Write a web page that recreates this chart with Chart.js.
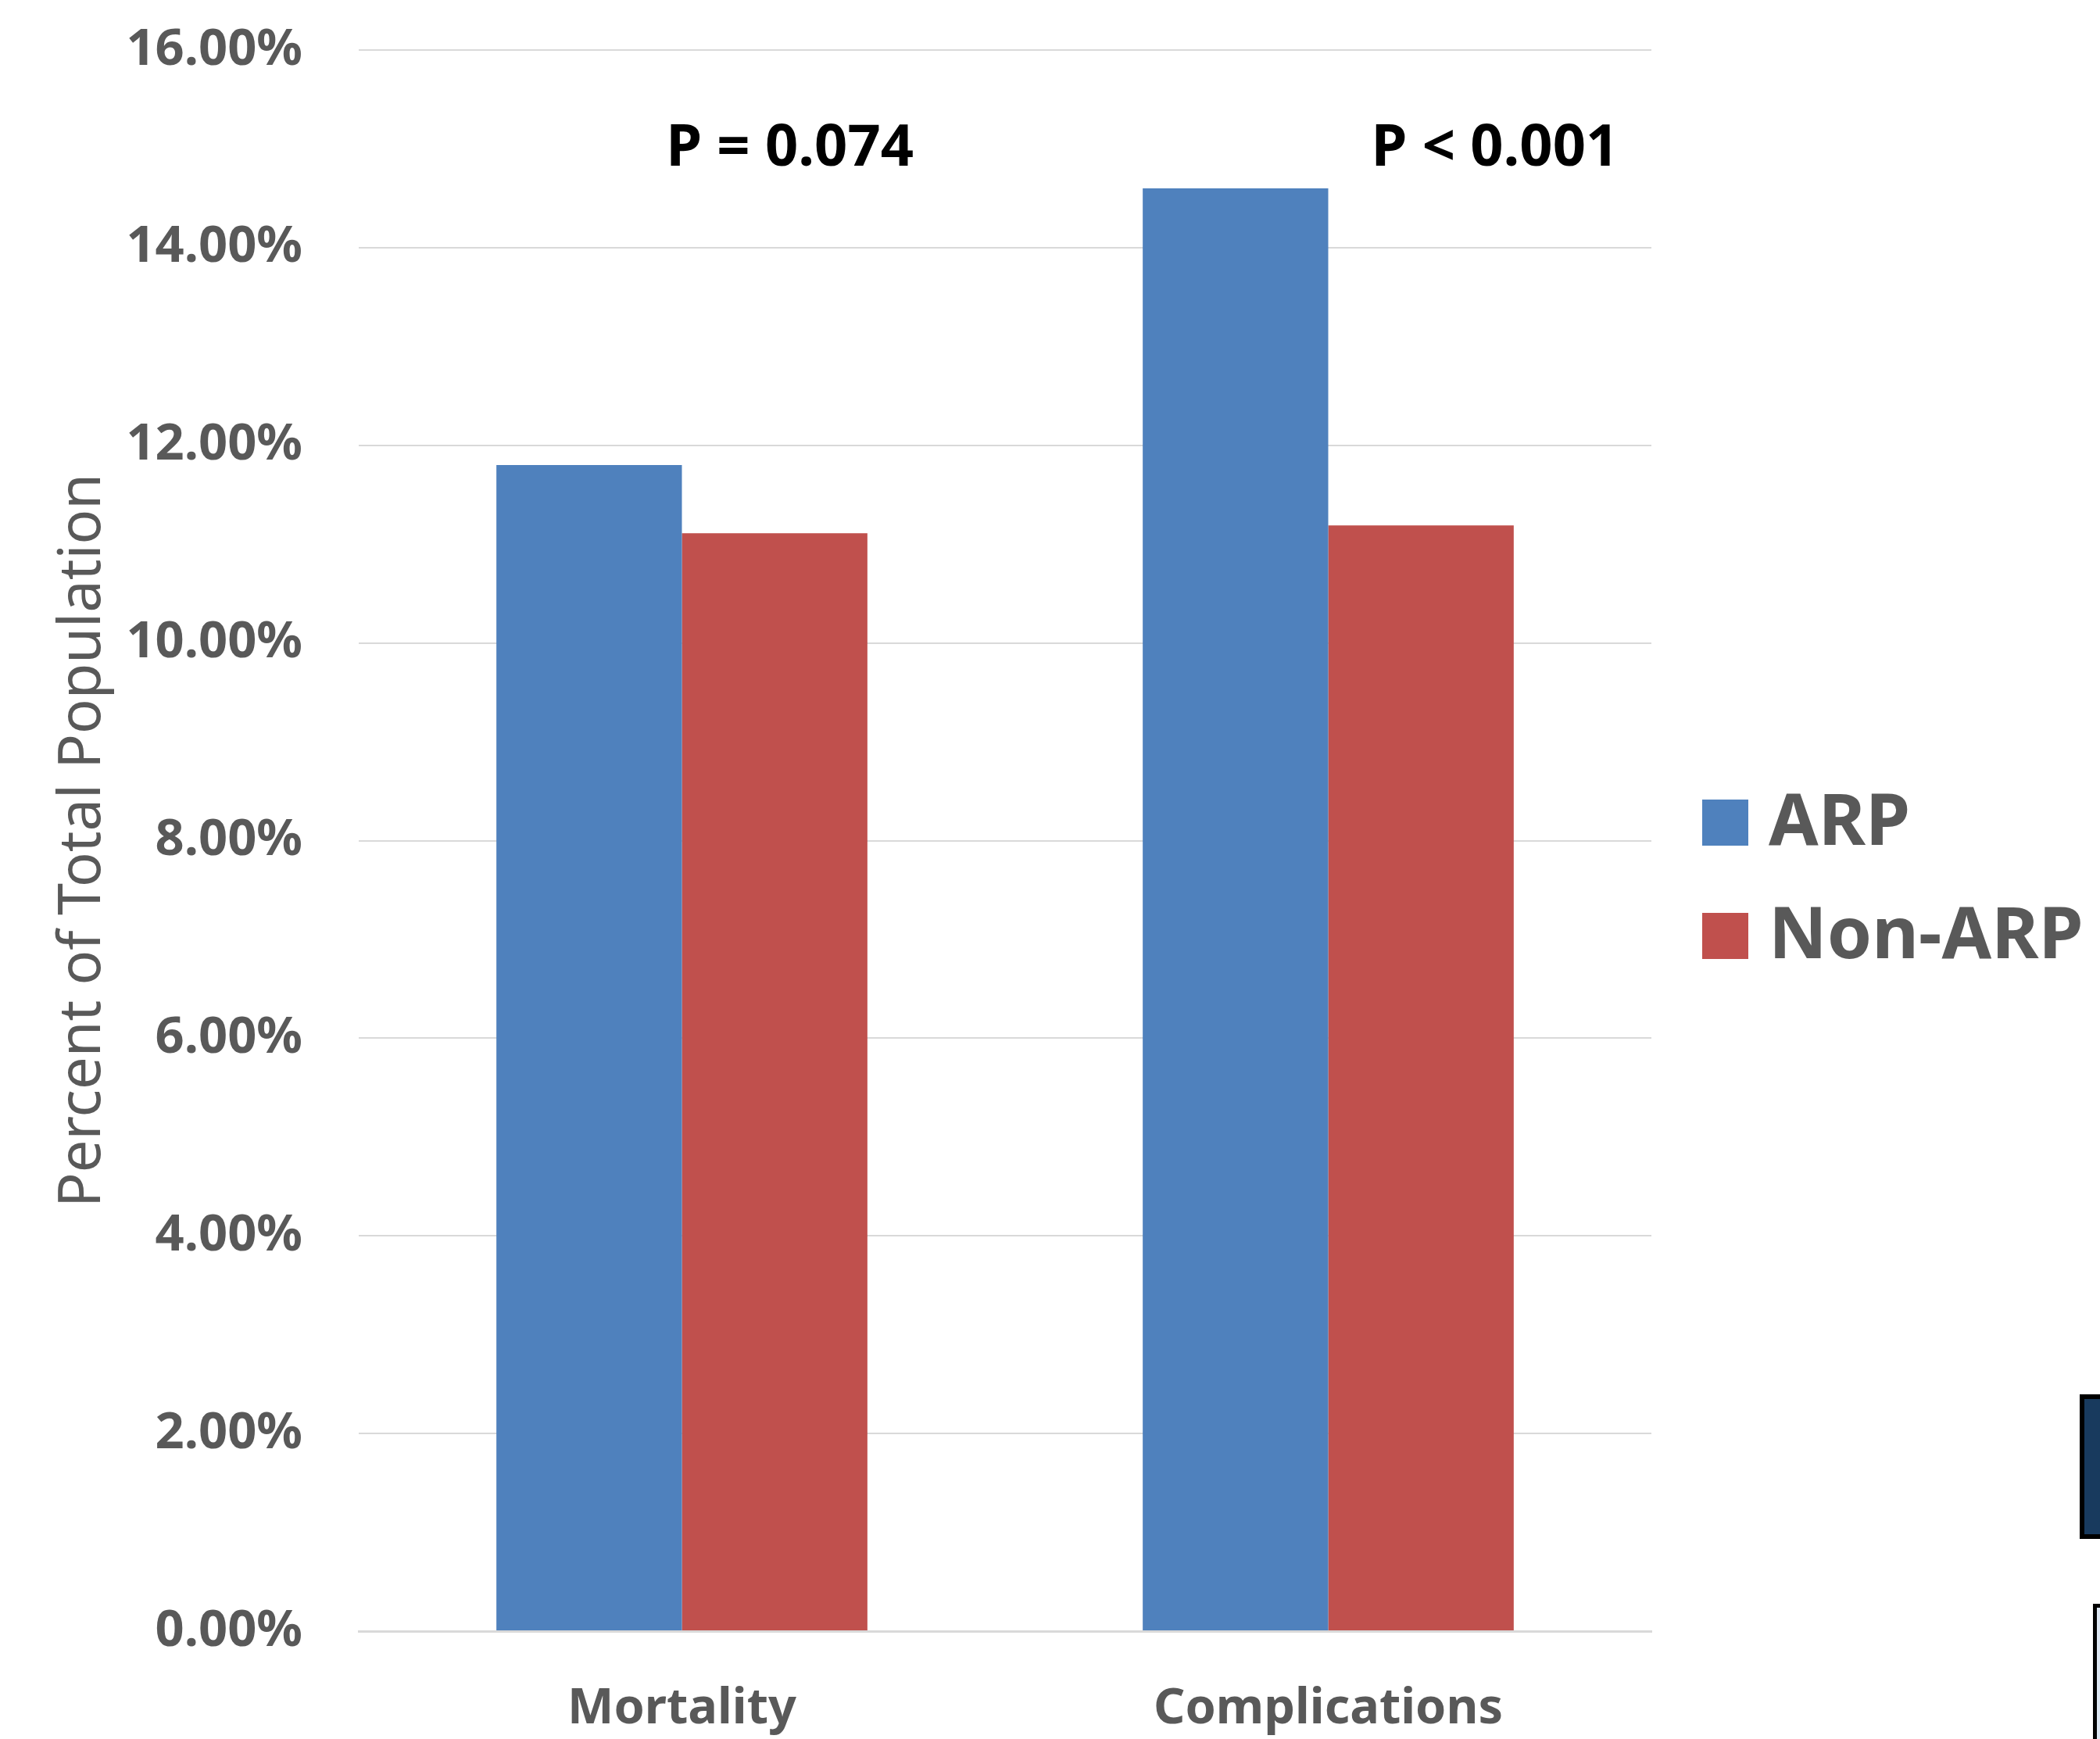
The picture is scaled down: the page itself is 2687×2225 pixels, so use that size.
<!DOCTYPE html>
<html>
<head>
<meta charset="utf-8">
<title>ARP vs Non-ARP outcomes</title>
<script src="https://cdn.jsdelivr.net/npm/chart.js"></script>
<style>
  html, body { margin: 0; padding: 0; background: #fff; }
  #wrap { position: relative; width: 2687px; height: 2225px; overflow: hidden; }
  #deco1 { position: absolute; left: 2661px; top: 1784px; width: 40px; height: 185px;
           background: #183a5e; border: 6px solid #000; box-sizing: border-box; }
  #deco2 { position: absolute; left: 2678px; top: 2052px; width: 40px; height: 200px;
           background: #dce6f2; border: 5px solid #000; box-sizing: border-box; }
</style>
</head>
<body>
<div id="wrap">
  <canvas id="outcomeChart"></canvas>
  <div id="deco1"></div>
  <div id="deco2"></div>
</div>

<script>
// data (percent of total population)
var categories = ['Mortality', 'Complications'];
var seriesNames = ['ARP', 'Non-ARP'];
var arpValues = [11.80, 14.60];
var nonArpValues = [11.11, 11.19];
var pValueLabels = ['P = 0.074', 'P < 0.001'];
var yTicks = [0, 2, 4, 6, 8, 10, 12, 14, 16];

var FONT = "'Noto Sans', 'DejaVu Sans', sans-serif";
var GREY = '#595959';

// p-value text above each category group
var pNotesPlugin = {
  id: 'pNotes',
  afterDatasetsDraw: function(chart) {
    var ctx = chart.ctx;
    var x = chart.scales.x, y = chart.scales.y;
    var catW = (chart.chartArea.right - chart.chartArea.left) / categories.length;
    var shift = [0.167, 0.258];
    ctx.save();
    ctx.font = 'bold 74px ' + FONT;
    ctx.fillStyle = '#000';
    ctx.textAlign = 'center';
    ctx.textBaseline = 'middle';
    pValueLabels.forEach(function(t, i) {
      ctx.fillText(t, x.getPixelForValue(i) + shift[i] * catW, y.getPixelForValue(15.0));
    });
    ctx.restore();
  }
};

// legend drawn to the right of the plot, like the office chart
var sideLegend = {
  id: 'sideLegend',
  afterDraw: function(chart) {
    var ctx = chart.ctx;
    var area = chart.chartArea;
    var mid = (area.top + area.bottom) / 2;
    var box = 59;
    ctx.save();
    ctx.font = 'bold 92px ' + FONT;
    ctx.textBaseline = 'middle';
    chart.data.datasets.forEach(function(ds, i) {
      var cy = mid - 23 + i * 145;
      var bx = area.right + 65;
      ctx.fillStyle = ds.backgroundColor;
      ctx.fillRect(bx, cy - box / 2, box, box);
      ctx.fillStyle = GREY;
      ctx.fillText(ds.label, bx + 85, cy + 2);
    });
    ctx.restore();
  }
};

var ctx = document.getElementById('outcomeChart').getContext('2d');
new Chart(ctx, {
  type: 'bar',
  data: {
    labels: categories,
    datasets: [
      { label: seriesNames[0], data: arpValues, backgroundColor: '#4F81BD' },
      { label: seriesNames[1], data: nonArpValues, backgroundColor: '#C0504D' }
    ]
  },
  options: {
    responsive: true,
    maintainAspectRatio: false,
    animation: false,
    layout: { padding: { top: 64, right: 574, left: 0, bottom: 0 } },
    datasets: { bar: { categoryPercentage: 0.574, barPercentage: 1.0 } },
    plugins: {
      legend: { display: false },
      tooltip: { enabled: false }
    },
    scales: {
      x: {
        grid: { display: false, drawTicks: false },
        border: { display: true, color: '#d9d9d9', width: 3 },
        ticks: { color: GREY, font: { family: FONT, size: 63, weight: 'bold' }, padding: 62 },
        afterFit: function(s) { s.height = 138; }
      },
      y: {
        min: 0,
        max: 16,
        afterBuildTicks: function(s) { s.ticks = yTicks.map(function(v) { return { value: v }; }); },
        ticks: {
          color: GREY,
          font: { family: FONT, size: 65, weight: 'bold' },
          padding: 72,
          callback: function(v) { return v.toFixed(2) + '%'; }
        },
        grid: { color: '#d9d9d9', lineWidth: 2, drawTicks: false },
        border: { display: false },
        title: {
          display: true,
          text: 'Percent of Total Population',
          color: GREY,
          font: { family: FONT, size: 74, weight: 'normal' },
          padding: { top: 63, bottom: 0 }
        },
        afterFit: function(s) {
          s.width = 459;
          s.paddingTop = 0;
          s.paddingBottom = 0;
        }
      }
    }
  },
  plugins: [pNotesPlugin, sideLegend]
});
</script>
</body>
</html>
